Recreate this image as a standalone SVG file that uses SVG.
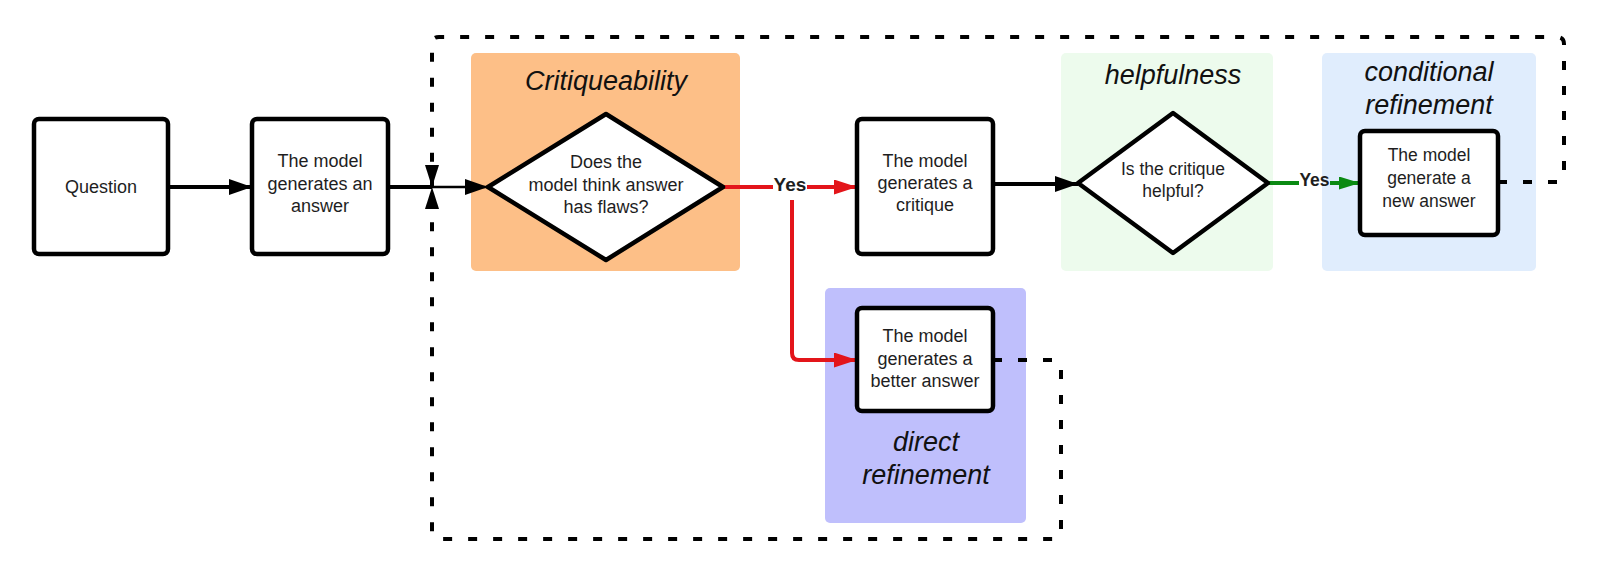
<svg xmlns="http://www.w3.org/2000/svg" width="1600" height="576" viewBox="0 0 1600 576">
<style>
.bg{stroke:none}
.box{fill:#fff;stroke:#000;stroke-width:4.5;stroke-linejoin:round}
.t{font-family:"Liberation Sans",Arial,sans-serif;font-size:18px;fill:#1e1e1e;text-anchor:middle}
.s{font-size:17.5px}
.title{font-family:"Liberation Sans",Arial,sans-serif;font-size:27px;font-style:italic;fill:#111;text-anchor:middle}
.yes{font-family:"Liberation Sans",Arial,sans-serif;font-weight:bold;fill:#1e1e1e;text-anchor:middle}
.c{fill:none;stroke:#000;stroke-width:4}
.red{stroke:#e3151a}
.green{stroke:#0a8a12}
.dash{stroke-dasharray:9 16}
</style>
<defs>
<marker id="ab" markerUnits="userSpaceOnUse" markerWidth="23" markerHeight="16" refX="23" refY="8" orient="auto" viewBox="0 0 23 16"><path d="M0,0 L23,8 L0,16 z" fill="#000"/></marker>
<marker id="ar" markerUnits="userSpaceOnUse" markerWidth="23" markerHeight="15" refX="23" refY="7.5" orient="auto" viewBox="0 0 23 15"><path d="M0,0 L23,7.5 L0,15 z" fill="#e3151a"/></marker>
<marker id="ag" markerUnits="userSpaceOnUse" markerWidth="21" markerHeight="13" refX="21" refY="6.5" orient="auto" viewBox="0 0 21 13"><path d="M0,0 L21,6.5 L0,13 z" fill="#0a8a12"/></marker>
<marker id="aj" markerUnits="userSpaceOnUse" markerWidth="22" markerHeight="14" refX="22" refY="7" orient="auto" viewBox="0 0 22 14"><path d="M0,0 L22,7 L0,14 z" fill="#000"/></marker>
</defs>

<g id="groups">
<g id="critiqueability-group">
<rect class="bg" x="471" y="53" width="269" height="218" rx="5" fill="#fdbf87"/>
<text class="title" x="606" y="90">Critiqueability</text>
</g>
<g id="helpfulness-group">
<rect class="bg" x="1061" y="53" width="212" height="218" rx="5" fill="#edfbed"/>
<text class="title" x="1173" y="84">helpfulness</text>
</g>
<g id="conditional-group">
<rect class="bg" x="1322" y="53" width="214" height="218" rx="5" fill="#e0edfd"/>
<text class="title" x="1429" y="81">conditional</text>
<text class="title" x="1429" y="114">refinement</text>
</g>
<g id="direct-group">
<rect class="bg" x="825" y="288" width="201" height="235" rx="5" fill="#bfbffc"/>
<text class="title" x="926" y="451">direct</text>
<text class="title" x="926" y="484">refinement</text>
</g>
</g>

<g id="connectors">
<path class="c" d="M168,187 H252" marker-end="url(#ab)"/>
<path class="c" d="M388,187 H432"/>
<path class="c" style="stroke-width:2.5" d="M432,187 H488" marker-end="url(#ab)"/>
<path class="c red" d="M723,187 H773"/>
<text class="yes" x="790" y="191" font-size="19">Yes</text>
<path class="c red" d="M807,187 H857" marker-end="url(#ar)"/>
<path class="c red" d="M792,200 V353 Q792,360 799,360 H857" marker-end="url(#ar)"/>
<path class="c" d="M993,184 H1078" marker-end="url(#ab)"/>
<path class="c green" d="M1268,183 H1299"/>
<text class="yes" x="1314.5" y="186" font-size="17.5">Yes</text>
<path class="c green" d="M1330,183 H1360" marker-end="url(#ag)"/>
<path class="c dash" d="M1498,182 H1557 Q1564,182 1564,175 V44 Q1564,37 1557,37 H439 Q432,37 432,44 V187" marker-end="url(#aj)"/>
<path class="c dash" d="M993,360 H1054 Q1061,360 1061,367 V532 Q1061,539 1054,539 H439 Q432,539 432,532 V187" marker-end="url(#aj)"/>
</g>

<g id="question">
<rect class="box" x="34" y="119" width="134" height="135" rx="5"/>
<text class="t" x="101" y="193">Question</text>
</g>
<g id="generate-answer">
<rect class="box" x="252" y="119" width="136" height="135" rx="5"/>
<text class="t" x="320" y="167">The model</text>
<text class="t" x="320" y="189.5">generates an</text>
<text class="t" x="320" y="212">answer</text>
</g>
<g id="flaws-decision">
<polygon class="box" points="606,114 723,187 606,260 488,187"/>
<text class="t" x="606" y="168">Does the</text>
<text class="t" x="606" y="190.5">model think answer</text>
<text class="t" x="606" y="213">has flaws?</text>
</g>
<g id="generate-critique">
<rect class="box" x="857" y="119" width="136" height="135" rx="5"/>
<text class="t" x="925" y="167">The model</text>
<text class="t" x="925" y="189">generates a</text>
<text class="t" x="925" y="211">critique</text>
</g>
<g id="helpful-decision">
<polygon class="box" points="1173,113 1268,183 1173,253 1078,183"/>
<text class="t s" x="1173" y="175">Is the critique</text>
<text class="t s" x="1173" y="197">helpful?</text>
</g>
<g id="new-answer">
<rect class="box" x="1360" y="131" width="138" height="104" rx="5"/>
<text class="t s" x="1429" y="161">The model</text>
<text class="t s" x="1429" y="184">generate a</text>
<text class="t s" x="1429" y="207">new answer</text>
</g>
<g id="better-answer">
<rect class="box" x="857" y="308" width="136" height="103" rx="5"/>
<text class="t" x="925" y="342">The model</text>
<text class="t" x="925" y="365">generates a</text>
<text class="t" x="925" y="387">better answer</text>
</g>
</svg>
